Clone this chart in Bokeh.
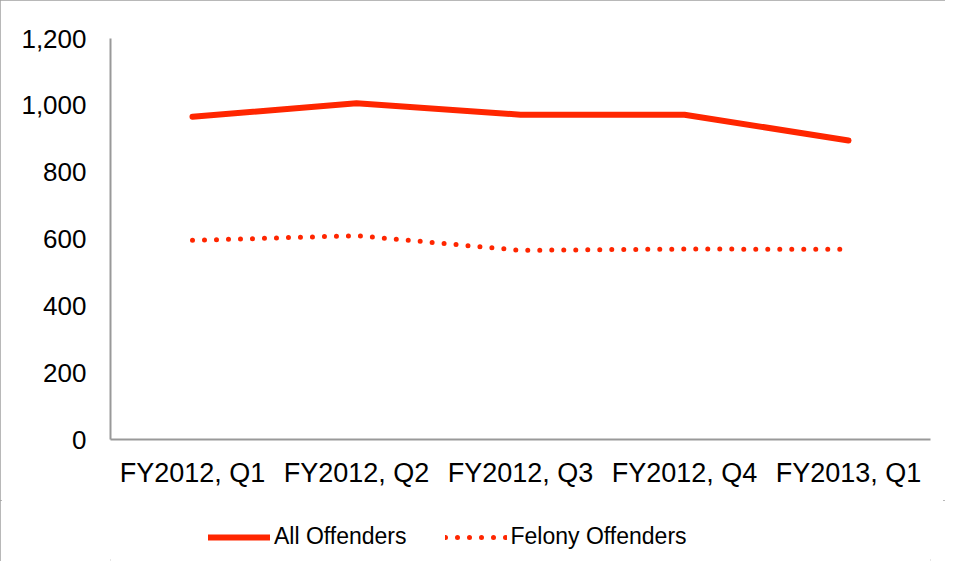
from bokeh.plotting import figure
from bokeh.layouts import column
from bokeh.models import FactorRange, Range1d, NumeralTickFormatter, FixedTicker, Legend, LegendItem
from bokeh.embed import file_html
from bokeh.resources import INLINE

quarters = ["FY2012, Q1", "FY2012, Q2", "FY2012, Q3", "FY2012, Q4", "FY2013, Q1"]
all_offenders = [966, 1006, 972, 972, 895]
felony_offenders = [596, 610, 566, 570, 569]
y_ticks = [0, 200, 400, 600, 800, 1000, 1200]
series_names = ["All Offenders", "Felony Offenders"]

RED = "#FF2600"
FONT = "Liberation Sans"

p = figure(width=945, height=500, output_backend="svg", toolbar_location=None,
           x_range=FactorRange(*quarters, range_padding=0), y_range=Range1d(0, 1200),
           min_border_left=110, min_border_top=38, min_border_right=15, min_border_bottom=61)
p.outline_line_color = None
p.grid.visible = False

p.line(quarters, all_offenders, line_color=RED, line_width=6, line_cap="round", line_join="round")
p.line(quarters, felony_offenders, line_color=RED, line_width=5, line_cap="round", line_dash="0 12")

for ax in (p.xaxis[0], p.yaxis[0]):
    ax.axis_line_color = "#999999"
    ax.axis_line_width = 2
    ax.major_tick_line_color = None
    ax.minor_tick_line_color = None
    ax.major_label_text_font = FONT
    ax.major_label_text_color = "#000000"

p.yaxis[0].major_label_text_font_size = "26px"
p.xaxis[0].major_label_text_font_size = "27px"
p.yaxis[0].ticker = FixedTicker(ticks=y_ticks)
p.yaxis[0].formatter = NumeralTickFormatter(format="0,0")
p.yaxis[0].major_label_standoff = 18
p.xaxis[0].major_label_standoff = 12

# legend strip (own small figure so the legend is not clipped by the main frame)
pl = figure(width=945, height=61, output_backend="svg", toolbar_location=None,
            x_range=Range1d(0, 1), y_range=Range1d(0, 1), x_axis_type=None, y_axis_type=None,
            min_border=0)
pl.outline_line_color = None
pl.grid.visible = False
# legend keys: off-range placeholder renderers, only their legend glyphs are visible
k1 = pl.line([-2, -1], [-2, -1], line_color=RED, line_width=6, line_cap="round")
k2 = pl.line([-2, -1], [-2, -1], line_color=RED, line_width=5, line_cap="round", line_dash="0 12")

legend = Legend(items=[LegendItem(label=series_names[0], renderers=[k1]),
                       LegendItem(label=series_names[1], renderers=[k2])],
                orientation="horizontal", location=(98, 11),
                label_text_font=FONT, label_text_font_size="23px", label_text_color="#000000",
                glyph_width=62, label_standoff=4, spacing=38,
                border_line_color=None, background_fill_alpha=0, margin=0, padding=4)
pl.add_layout(legend, "center")

layout = column(p, pl, spacing=0)
layout.styles = {"outline": "2px solid #a0a0a0", "outline-offset": "-2px"}

open("out.html", "w").write(file_html(layout, INLINE))
